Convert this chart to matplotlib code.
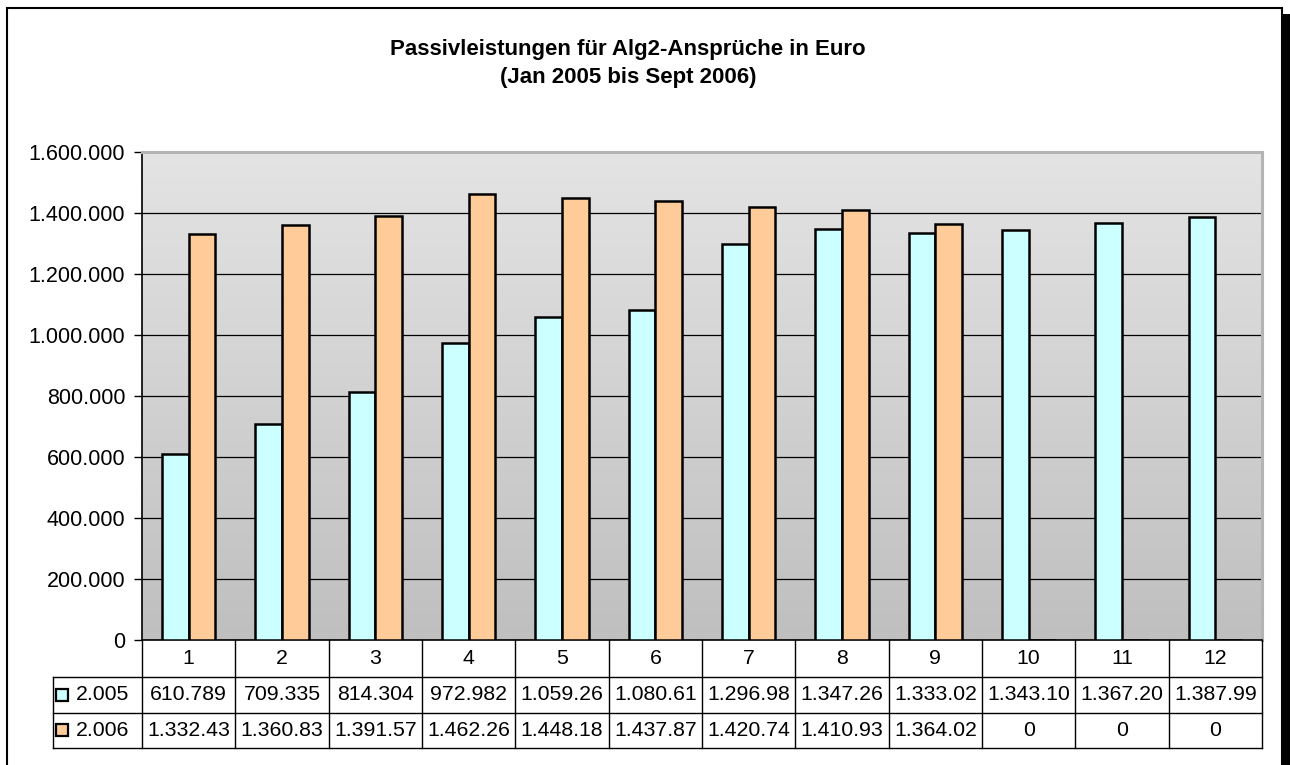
import numpy as np
import matplotlib
matplotlib.use("Agg")
import matplotlib.pyplot as plt
from matplotlib.patches import Rectangle
from matplotlib.colors import LinearSegmentedColormap

plt.rcParams['font.family'] = ['Liberation Sans', 'DejaVu Sans']

months = list(range(1, 13))
vals_2005 = [610789, 709335, 814304, 972982, 1059260, 1080610,
             1296980, 1347260, 1333020, 1343100, 1367200, 1387990]
vals_2006 = [1332430, 1360830, 1391570, 1462260, 1448180, 1437870,
             1420740, 1410930, 1364020, 0, 0, 0]
labels_2005 = ["610.789", "709.335", "814.304", "972.982", "1.059.26", "1.080.61",
               "1.296.98", "1.347.26", "1.333.02", "1.343.10", "1.367.20", "1.387.99"]
labels_2006 = ["1.332.43", "1.360.83", "1.391.57", "1.462.26", "1.448.18", "1.437.87",
               "1.420.74", "1.410.93", "1.364.02", "0", "0", "0"]
series_names = ["2.005", "2.006"]
colors = ["#ccffff", "#ffcc99"]
yticks = [0, 200000, 400000, 600000, 800000, 1000000, 1200000, 1400000, 1600000]

W, H = 1290, 765
fig = plt.figure(figsize=(W / 100, H / 100), dpi=100)
ax = fig.add_axes([142 / W, (H - 640) / H, 1120 / W, 488 / H])

# gradient background of the plot area
grad = np.linspace(0, 1, 256).reshape(-1, 1)
cmap = LinearSegmentedColormap.from_list("bg", ["#e4e4e4", "#bfbfbf"])
ax.imshow(grad, cmap=cmap, aspect="auto", extent=[0, 1, 0, 1],
          transform=ax.transAxes, zorder=0)

x = np.array(months)
bw = 1 / 3.5
ax.bar(x - bw / 2, vals_2005, bw, color=colors[0], edgecolor="black", lw=1.8, zorder=3)
ax.bar(x + bw / 2, vals_2006, bw, color=colors[1], edgecolor="black", lw=1.8, zorder=3)

ax.set_xlim(0.5, 12.5)
ax.set_ylim(0, 1600000)
ax.set_yticks(yticks)
ax.set_yticklabels([f"{v:,.0f}".replace(",", ".") for v in yticks], fontsize=15.5)
ax.tick_params(axis="y", length=6, width=1, pad=6)
ax.set_xticks([])
ax.yaxis.grid(True, color="black", lw=0.9)
ax.set_axisbelow(True)
for s in ["left", "bottom"]:
    ax.spines[s].set_color("black")
    ax.spines[s].set_linewidth(1.2)
for s in ["top", "right"]:
    ax.spines[s].set_color("#b4b4b4")
    ax.spines[s].set_linewidth(2.2)

# data table under the chart, drawn by hand
tr = ax.get_xaxis_transform()   # x in data, y in axes fraction
px = 488.0                      # axes height in pixels
row_edges = [0, -37 / px, -72.5 / px, -108 / px]
lab_left = 0.5 - 89 / (1120 / 12)
line_kw = dict(color="black", lw=1.0, transform=tr, clip_on=False, zorder=5)
for k in range(13):
    ax.plot([0.5 + k, 0.5 + k], [row_edges[0], row_edges[-1]], **line_kw)
ax.plot([lab_left, lab_left], [row_edges[1], row_edges[-1]], **line_kw)
for yy in row_edges[1:]:
    ax.plot([lab_left, 12.5], [yy, yy], **line_kw)

txt_kw = dict(transform=tr, fontsize=15.3, va="center", clip_on=False)
for m in months:
    ax.text(m, (row_edges[0] + row_edges[1]) / 2, str(m), ha="center", **txt_kw)
for r, (name, labs, col) in enumerate(zip(series_names, [labels_2005, labels_2006], colors)):
    yc = (row_edges[r + 1] + row_edges[r + 2]) / 2
    for m, s in zip(months, labs):
        ax.text(m, yc, s, ha="center", **txt_kw)
    ax.plot([lab_left + 0.1], [yc], transform=tr, marker="s", ms=8, mfc=col,
            mec="black", mew=1.6, clip_on=False, zorder=6)
    ax.text(lab_left + 0.25, yc, name, ha="left", **txt_kw)

fig.text(628 / W, 1 - 50 / H, "Passivleistungen für Alg2-Ansprüche in Euro",
         ha="center", va="center", fontsize=16, fontweight="bold")
fig.text(628 / W, 1 - 77 / H, "(Jan 2005 bis Sept 2006)",
         ha="center", va="center", fontsize=16, fontweight="bold")

# chart frame with shadow
fig.patches.append(Rectangle((7 / W, -0.1), (1282 - 7) / W, (H - 8) / H + 0.1,
                             transform=fig.transFigure, fill=False,
                             edgecolor="black", lw=1.5))
fig.patches.append(Rectangle((1283 / W, -0.1), 7 / W, (H - 14) / H + 0.1,
                             transform=fig.transFigure, facecolor="black",
                             edgecolor="none"))

fig.savefig("out.png", dpi=100)
